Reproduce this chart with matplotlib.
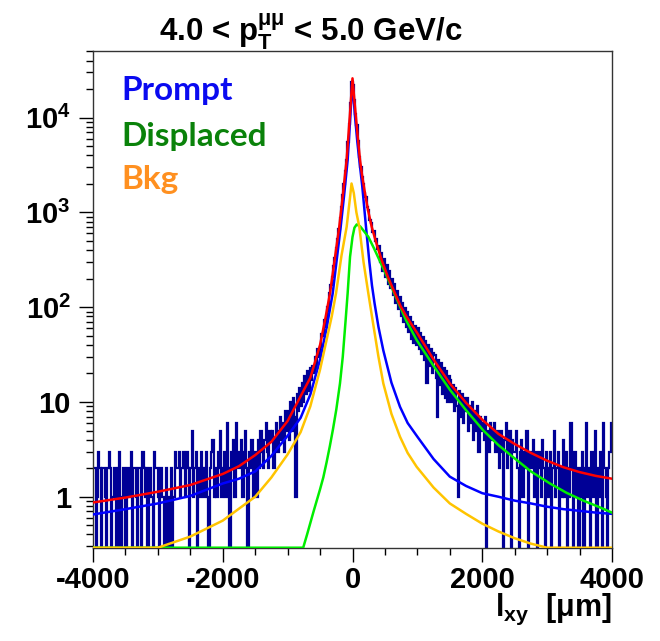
import numpy as np
import matplotlib
matplotlib.use("Agg")
import matplotlib.pyplot as plt
from matplotlib.ticker import FixedLocator, FixedFormatter, MultipleLocator

plt.rcParams['font.family'] = ['Liberation Sans', 'DejaVu Sans']
plt.rcParams['font.weight'] = 'bold'
plt.rcParams['mathtext.fontset'] = 'custom'
plt.rcParams['mathtext.rm'] = 'Liberation Sans:bold'
plt.rcParams['mathtext.bf'] = 'Liberation Sans:bold'
plt.rcParams['mathtext.it'] = 'Liberation Sans:bold'
plt.rcParams['mathtext.sf'] = 'Liberation Sans:bold'

# ---------------- data ----------------
# histogram counts, 20 um bins, left half [-4000,0] and right half [0,4000]
hist_left = [
    2, 2, 0, 1, 3, 2, 0, 2, 2, 1, 0, 2, 3, 2, 0, 1, 2, 2, 0, 2, 3, 0, 1, 2, 2,
    0, 2, 2, 1, 3, 0, 2, 2, 1, 0, 2, 2, 0, 3, 2, 1, 2, 0, 2, 2, 1, 0, 3, 2, 2,
    1, 0, 2, 1, 1, 0, 2, 1, 0, 1, 2, 0, 1, 3, 2, 2, 3, 1, 2, 3, 2, 1, 3, 2, 0,
    2, 5, 1, 2, 3, 0, 2, 1, 3, 2, 1, 2, 3, 1, 0, 2, 3, 4, 1, 2, 1, 3, 2, 5, 1,
    2, 3, 1, 6, 2, 0, 3, 2, 4, 1, 6, 2, 3,
    2, 4, 1, 3, 5, 2, 0, 3, 2, 4, 1, 3,
    3, 1, 4, 2, 5, 3, 2, 4, 6, 3, 2, 5, 4,
    5, 2, 4, 6, 3, 5, 7, 4, 6, 3, 8, 5,
    8, 4, 10, 5, 11, 7, 1, 12, 8, 14,
    9, 16, 10, 19, 12, 21, 13, 23,
    17, 24, 20, 30, 23, 36, 30,
    38, 52, 50, 74, 62, 100, 92, 140,
    172, 209, 270, 330, 425, 520, 665,
    870, 1130, 1540, 2010, 2720, 3580, 5500, 8600, 14200, 23500,
]
hist_right = [
    22300, 15200, 10800, 8300, 5700, 3850, 3050, 2380, 1980, 1600,
    1450, 1150, 1060, 840, 780, 620, 640, 500, 520, 410,
    440, 300, 370, 240, 320, 210, 280, 175, 240, 160,
    200, 135, 175, 110, 150, 95, 128, 80, 110, 70,
    98, 62, 88, 55, 78, 46, 70, 42, 64, 40,
    60, 36, 54, 32, 48, 28, 44, 16, 40, 24, 36, 20, 33,
    31, 18, 7, 28, 15, 26, 12, 23, 11, 21, 10, 19,
    17, 10, 15, 8, 14, 9, 1, 13, 7, 12, 6, 11, 8,
    11, 5, 9, 6, 10, 4, 8, 5, 9, 3, 7, 5,
    6, 4, 7, 0, 5, 3, 6, 4, 5, 6, 3, 5,
    4, 2, 5, 3, 0, 4, 6, 2, 3, 5, 0, 4, 3,
    3, 5, 2, 0, 3, 4, 1, 3, 2, 5, 0, 2, 3,
    2, 4, 1, 3, 0, 2, 3, 1, 4, 2, 0, 3,
    2, 1, 3, 0, 2, 5, 1, 2, 3, 0, 2, 1, 4,
    1, 3, 0, 2, 1, 6, 2, 0, 3, 1, 2, 0,
    2, 1, 3, 0, 2, 6, 1, 2, 0, 3, 1, 2, 5,
    0, 2, 1, 3, 0, 6, 2, 1, 0, 2, 3, 6,
]

# total fit (red)
total_x = [-4000, -3500, -3000, -2500, -2000, -1750, -1500, -1250, -1000, -800,
           -650, -500, -420, -347, -280, -204, -150, -91, -53, -25,
           0, 30, 74, 116, 150, 193, 240, 296, 365, 450,
           550, 655, 740, 835, 1000, 1250, 1500, 1750, 2000, 2250,
           2500, 2750, 3000, 3250, 3500, 3750, 4000]
total_y = [0.87, 0.98, 1.13, 1.33, 1.74, 2.1, 2.75, 3.8, 6.3, 11.5,
           18, 40, 75, 140, 300, 705, 1500, 3560, 8000, 15000,
           26000, 15000, 7000, 3560, 2400, 1585, 1050, 705, 480, 314,
           205, 140, 103, 79, 53, 28, 15.7, 9.8, 6.5, 4.6,
           3.6, 2.9, 2.4, 2.05, 1.82, 1.66, 1.55]

# prompt (blue)
prompt_x = [-4000, -3500, -3000, -2500, -2000, -1750, -1500, -1250, -1000, -800,
            -650, -500, -400, -305, -240, -182, -130, -75, -35, 0,
            35, 75, 105, 150, 208, 260, 300, 340, 400, 475,
            600, 732, 850, 1000, 1250, 1500, 1750, 2000, 2250, 2500,
            2750, 3000, 3250, 3500, 3750, 4000]
prompt_y = [0.65, 0.74, 0.85, 1.02, 1.38, 1.55, 1.85, 2.7, 4.4, 6.8,
            12, 28, 60, 140, 330, 705, 1500, 3560, 10000, 24500,
            11000, 5500, 3560, 1900, 705, 300, 170, 110, 62, 35,
            16, 8.9, 6, 4.3, 2.5, 1.63, 1.3, 1.09, 1.0, 0.91,
            0.85, 0.785, 0.74, 0.71, 0.68, 0.66]

# displaced (green)
displaced_x = [-4000, -760, -700, -600, -500, -450, -400, -350, -300, -250,
               -193, -150, -106, -75, -38, 0, 30, 65, 120, 180,
               244, 330, 415, 500, 644, 825, 989, 1250, 1503, 1750,
               2017, 2250, 2531, 2750, 3044, 3300, 3558, 3800, 4000]
displaced_y = [0, 0.29, 0.4, 0.7, 1.2, 1.6, 2.3, 3.4, 5.2, 8.3,
               15.7, 30, 73, 140, 340, 550, 690, 747, 710, 630,
               553, 420, 314, 235, 140, 73, 45, 24, 13.4, 8.2,
               5.0, 3.5, 2.44, 1.85, 1.38, 1.1, 0.91, 0.78, 0.68]

# background (orange)
bkg_x = [-4000, -3500, -3000, -2500, -2000, -1500, -1250, -1000, -800, -650,
         -500, -400, -320, -254, -170, -90, -40, -15, 20, 60,
         105, 170, 244, 300, 400, 475, 600, 732, 850, 989,
         1250, 1500, 1750, 2000, 2250, 2500, 2750, 3000, 3500, 4000]
bkg_y = [0.15, 0.21, 0.29, 0.38, 0.56, 1.0, 1.6, 2.8, 4.8, 9,
         22, 45, 80, 140, 350, 705, 1400, 2020, 1600, 1000,
         705, 300, 140, 80, 30, 15.7, 7.5, 4.3, 2.9, 2.07,
         1.25, 0.85, 0.66, 0.52, 0.43, 0.365, 0.32, 0.29, 0.22, 0.17]

x_ticks = [-4000, -2000, 0, 2000, 4000]
x_ticklabels = ['-4000', '-2000', '0', '2000', '4000']
y_ticks = [1, 10, 100, 1000, 10000]
y_ticklabels = ['1', '10', r'$10^{2}$', r'$10^{3}$', r'$10^{4}$']
legend_labels = ['Prompt', 'Displaced', 'Bkg']
title_text = r'4.0 < p$_{T}^{\mathrm{μμ}}$ < 5.0 GeV/c'
xlabel_text = r'l$_{xy}$  [μm]'

# ---------------- plot ----------------
YMIN, YMAX = 0.29, 5.05e4
XMIN, XMAX = -4000, 4000

fig = plt.figure(figsize=(6.6, 6.41), dpi=100)
ax = fig.add_axes([93 / 660, 1 - 547.7 / 641, 519 / 660, 496.7 / 641])

def floor(v):
    v = np.asarray(v, dtype=float)
    return np.where(v < YMIN, YMIN * 0.5, v)

def clip_curve(v):
    return np.maximum(np.asarray(v, dtype=float), YMIN)

edges_l = np.linspace(XMIN, 0, len(hist_left) + 1)
edges_r = np.linspace(0, XMAX, len(hist_right) + 1)
vals = np.concatenate([floor(hist_left), floor(hist_right)])
edges = np.concatenate([edges_l, edges_r[1:]])
ax.stairs(vals, edges, baseline=None, color='#000096', lw=1.6, zorder=2)

lw = 1.8
ax.plot(prompt_x, clip_curve(prompt_y), color='#0000FF', lw=lw, zorder=3)
ax.plot(displaced_x, clip_curve(displaced_y), color='#00EE00', lw=lw, zorder=3)
ax.plot(bkg_x, clip_curve(bkg_y), color='#FFC400', lw=lw, zorder=4)
ax.plot(total_x, clip_curve(total_y), color='#FF0000', lw=lw, zorder=5)

ax.set_yscale('log')
ax.set_xlim(XMIN, XMAX)
ax.set_ylim(YMIN, YMAX)

ax.xaxis.set_major_locator(FixedLocator(x_ticks))
ax.xaxis.set_major_formatter(FixedFormatter(x_ticklabels))
ax.xaxis.set_minor_locator(MultipleLocator(500))
ax.yaxis.set_major_locator(FixedLocator(y_ticks))
ax.yaxis.set_major_formatter(FixedFormatter(y_ticklabels))
minors = [m * 10 ** e for e in range(-1, 5) for m in range(2, 10)]
minors = [m for m in minors if YMIN <= m <= YMAX]
ax.yaxis.set_minor_locator(FixedLocator(minors))
ax.yaxis.set_minor_formatter(FixedFormatter([''] * len(minors)))

ax.tick_params(axis='both', which='major', direction='out', length=10, width=1,
               labelsize=21, top=False, right=False)
ax.tick_params(axis='both', which='minor', direction='out', length=5, width=1,
               top=False, right=False)
ax.tick_params(axis='x', which='major', pad=3)
ax.tick_params(axis='y', which='major', pad=6)
for lab in ax.get_xticklabels() + ax.get_yticklabels():
    lab.set_fontweight('bold')
for s in ax.spines.values():
    s.set_linewidth(1.0)
    s.set_color('#333333')

leg_colors = ['#0A0AF0', '#0A820A', '#FF9020']
leg_y = [100, 146, 189]
for lab, c, yb in zip(legend_labels, leg_colors, leg_y):
    fig.text(121 / 660, 1 - yb / 641, lab, color=c, fontsize=24,
             fontfamily='Lato', fontweight='bold', va='baseline', ha='left')

fig.text(311 / 660, 1 - 41 / 641, title_text, fontsize=22.5, fontweight='bold',
         ha='center', va='baseline')
fig.text(612 / 660, 1 - 616 / 641, xlabel_text, fontsize=22, fontweight='bold',
         ha='right', va='baseline')

fig.savefig('out.png', dpi=100)
